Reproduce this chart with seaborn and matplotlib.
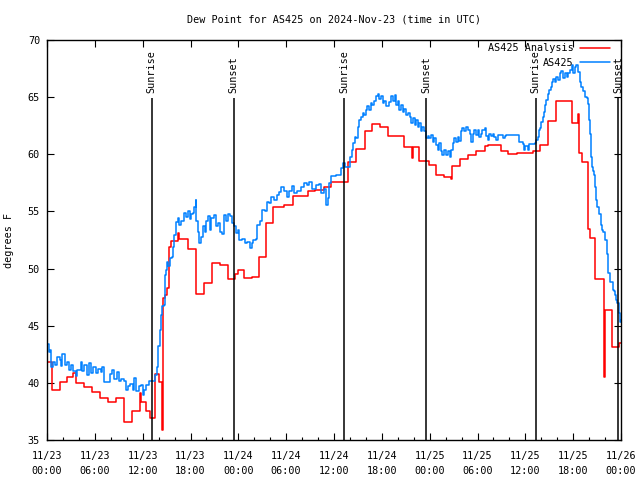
import matplotlib
matplotlib.use("Agg")
import matplotlib.pyplot as plt
import matplotlib.dates as mdates
import seaborn as sns
import pandas as pd

# hours after 2024-11-23 00:00 UTC
start = pd.Timestamp("2024-11-23 00:00")

# analysis series (step change points)
analysis_hours = [0.0, 0.67, 1.6, 2.55, 3.2, 3.7, 4.65, 5.7, 6.67, 7.67, 8.7, 9.6, 10.6,
                  11.7, 11.8, 12.4, 12.95, 13.6, 14.1, 14.4, 14.6, 14.8, 15.1, 15.3, 15.6,
                  16.4, 16.6, 17.65, 18.65, 19.75, 20.7, 21.7, 22.7, 23.6, 23.9, 24.7, 25.75,
                  26.6, 27.5, 28.3, 29.7, 30.8, 32.75, 33.6, 34.8, 35.6, 37.8, 38.8, 39.9,
                  40.75, 41.75, 42.8, 44.8, 45.75, 45.85, 46.7, 47.95, 48.8, 49.85, 50.7,
                  50.8, 51.8, 52.8, 53.8, 54.9, 55.3, 56.9, 57.8, 59.0, 60.95, 61.9, 62.85,
                  63.9, 64.9, 65.9, 66.6, 66.75, 67.1, 67.9, 68.1, 68.8, 69.85, 69.95, 70.9,
                  71.75, 72.0]
analysis_vals = [41.8, 39.4, 40.1, 40.5, 40.9, 40.0, 39.6, 39.2, 38.65, 38.35, 38.65, 36.55, 37.5,
                 39.1, 38.3, 37.5, 36.9, 40.75, 40.1, 35.9, 47.4, 47.7, 48.3, 51.9, 52.4,
                 53.1, 52.6, 51.7, 47.8, 48.7, 50.5, 50.3, 49.05, 49.5, 49.9, 49.2, 49.3,
                 51.0, 54.0, 55.4, 55.6, 56.35, 56.8, 56.9, 57.1, 57.6, 59.35, 60.5, 62.0,
                 62.65, 62.4, 61.6, 60.65, 59.7, 60.6, 59.4, 59.05, 58.2, 58.05, 57.8,
                 58.95, 59.6, 59.95, 60.25, 60.7, 60.8, 60.3, 60.0, 60.1, 60.25, 60.8, 62.9,
                 64.65, 64.7, 62.7, 63.5, 60.1, 59.3, 53.45, 52.65, 49.1, 40.55, 46.4, 43.1,
                 43.5, 43.5]

# station observations
obs_hours = [0.0, 0.2, 0.33, 0.55, 0.8, 1.0, 1.3, 1.6, 1.8, 1.93, 2.2, 2.47, 2.77, 3.06, 3.31,
             3.6, 3.8, 4.23, 4.44, 4.65, 4.99, 5.28, 5.49, 5.83, 6.12, 6.41, 6.75, 6.96, 7.17,
             7.59, 7.88, 8.13, 8.43, 8.76, 8.97, 9.27, 9.6, 9.89, 10.1, 10.44, 10.73, 10.94,
             11.15, 11.49, 11.78, 11.99, 12.2, 12.41, 12.83, 13.46, 13.58, 13.75, 13.96, 14.13,
             14.3, 14.42, 14.63, 14.76, 14.93, 15.05, 15.22, 15.39, 15.64, 15.77, 15.98, 16.2,
             16.4, 16.6, 16.8, 17.15, 17.4, 17.65, 17.9, 18.1, 18.3, 18.5, 18.65, 18.75, 18.9,
             19.05, 19.3, 19.55, 19.8, 20.0, 20.2, 20.4, 20.6, 20.9, 21.2, 21.5, 21.7, 22.0,
             22.2, 22.4, 22.7, 22.9, 23.2, 23.4, 23.7, 23.9, 24.1, 24.5, 24.85, 25.1, 25.45,
             25.7, 25.9, 26.2, 26.4, 26.7, 27.0, 27.3, 27.55, 27.85, 28.1, 28.5, 28.8, 29.1,
             29.4, 29.7, 30.1, 30.4, 30.7, 31.0, 31.4, 31.8, 32.25, 32.6, 32.9, 33.2, 33.5,
             33.8, 34.1, 34.4, 34.75, 34.95, 35.2, 35.4, 35.6, 36.2, 36.9, 37.1, 37.4, 37.8,
             37.98, 38.2, 38.4, 38.6, 38.8, 38.95, 39.1, 39.4, 39.6, 39.8, 40.0, 40.2, 40.4,
             40.6, 40.8, 41.05, 41.3, 41.5, 41.7, 41.9, 42.1, 42.3, 42.5, 42.85, 43.1, 43.4,
             43.6, 43.8, 44.0, 44.2, 44.4, 44.6, 44.8, 45.0, 45.25, 45.5, 45.7, 45.9, 46.1,
             46.3, 46.5, 46.7, 46.9, 47.1, 47.3, 47.5, 47.75, 47.97, 48.2, 48.4, 48.6, 48.8,
             49.0, 49.2, 49.4, 49.6, 49.8, 50.0, 50.25, 50.5, 50.7, 50.9, 51.1, 51.3, 51.5,
             51.7, 51.95, 52.1, 52.35, 52.6, 52.8, 53.0, 53.2, 53.4, 53.6, 53.8, 54.0, 54.2,
             54.4, 54.6, 54.9, 55.1, 55.3, 55.5, 55.7, 55.9, 56.1, 56.3, 56.6, 57.2, 57.4,
             57.6, 58.9, 59.2, 59.7, 59.8, 60.0, 60.3, 60.5, 60.8, 61.2, 61.4, 61.6, 61.7,
             61.8, 62.0, 62.2, 62.4, 62.5, 62.6, 62.85, 63.0, 63.2, 63.4, 63.5, 63.7, 63.9,
             64.1, 64.3, 64.5, 64.7, 64.95, 65.2, 65.4, 65.6, 65.8, 66.0, 66.2, 66.4, 66.6,
             66.8, 67.0, 67.2, 67.5, 67.7, 67.9, 68.0, 68.1, 68.2, 68.3, 68.5, 68.6, 68.8,
             68.9, 69.0, 69.2, 69.3, 69.5, 69.6, 69.8, 70.0, 70.2, 70.4, 70.6, 70.95, 71.1,
             71.3, 71.4, 71.5, 71.7, 71.9, 72.0]
obs_vals = [43.4, 42.7, 42.9, 41.4, 41.8, 41.6, 42.3, 42.0, 41.5, 42.5, 41.6, 41.8, 41.1, 41.6, 41.05,
            40.6, 41.1, 41.8, 41.0, 41.6, 40.7, 41.7, 40.9, 41.4, 40.9, 41.2, 40.95, 41.4, 40.1,
            40.1, 40.8, 41.1, 40.3, 40.95, 40.2, 40.3, 40.2, 39.4, 39.7, 39.9, 39.4, 40.4,
            39.3, 39.7, 39.85, 38.95, 39.4, 39.85, 40.15, 40.15, 40.7, 41.4, 43.2, 44.6,
            45.9, 46.7, 46.85, 49.4, 49.9, 50.6, 50.2, 50.9, 51.0, 51.9, 52.9, 54.1,
            54.4, 53.8, 54.2, 54.9, 54.5, 55.0, 54.3, 54.8, 54.9, 55.4, 56.0, 54.2, 53.2,
            52.2, 52.8, 53.7, 53.2, 54.2, 54.6, 53.4, 54.4, 54.7, 53.7, 54.0, 53.2, 53.0,
            54.7, 54.2, 54.8, 54.6, 54.0, 53.7, 53.1, 53.4, 52.5, 52.6, 52.2, 52.35, 51.8,
            52.2, 52.5, 52.6, 53.8, 54.2, 55.1, 55.0, 55.85, 55.7, 56.3, 56.0, 56.45, 56.7,
            57.15, 56.8, 56.3, 56.8, 57.2, 56.6, 56.75, 57.15, 57.45, 57.3, 57.6, 57.0, 57.0,
            57.3, 57.4, 56.6, 57.0, 55.6, 56.2, 57.45, 58.1, 58.2, 58.8, 59.2, 58.9, 58.9,
            59.8, 60.4, 61.0, 61.5, 61.4, 62.4, 63.0, 63.3, 63.6, 63.4, 63.9, 64.2, 63.9,
            64.5, 64.3, 64.7, 65.1, 65.3, 64.8, 65.1, 64.5, 64.7, 64.2, 64.6, 65.1, 64.7,
            65.2, 64.3, 64.7, 63.9, 64.3, 63.7, 64.0, 63.4, 63.6, 63.3, 62.7, 63.2, 62.6,
            63.0, 62.4, 62.7, 62.0, 62.4, 62.0, 61.4, 61.6, 61.4, 61.7, 61.1, 61.4, 60.8,
            60.4, 61.0, 60.3, 59.9, 60.4, 59.9, 60.3, 59.8, 60.4, 61.0, 61.4, 61.1, 61.5,
            61.2, 62.0, 62.3, 62.0, 62.4, 62.1, 61.8, 61.1, 61.8, 62.1, 61.7, 62.1, 61.5,
            61.8, 62.1, 62.3, 61.6, 61.25, 61.8, 61.6, 61.8, 61.5, 61.25, 61.7, 61.4, 61.6,
            61.7, 61.7, 61.1, 60.9, 60.4, 60.7, 60.4, 60.9, 60.9, 61.0, 61.25, 61.5, 62.1,
            62.3, 62.85, 63.3, 63.7, 64.3, 64.75, 65.3, 65.6, 65.9, 66.35, 66.6, 66.3, 66.8,
            66.5, 67.1, 67.3, 66.65, 67.1, 66.8, 67.1, 67.4, 67.8, 67.1, 67.65, 67.8, 67.2,
            66.35, 65.9, 65.5, 65.0, 64.9, 64.4, 63.0, 61.8, 59.8, 58.9, 58.5, 58.2, 57.15,
            56.0, 55.4, 55.1, 54.8, 53.8, 53.4, 53.2, 52.5, 51.3, 49.6, 48.85, 48.1, 48.0,
            47.7, 47.25, 46.95, 46.1, 45.35, 45.5]

sunrise_hours = [13.12, 37.27, 61.3]
sunset_hours = [23.43, 47.55, 71.66]


def to_time(hours):
    return start + pd.to_timedelta(hours, unit="h")


analysis_df = pd.DataFrame({"time": to_time(analysis_hours), "dewpoint": analysis_vals})
obs_df = pd.DataFrame({"time": to_time(obs_hours), "dewpoint": obs_vals})

sns.set_style("ticks")
plt.rcParams["font.family"] = ["DejaVu Sans Mono"]
fs = 7.3
plt.rcParams["font.size"] = fs
for key in ["text.color", "axes.labelcolor", "xtick.color", "ytick.color"]:
    plt.rcParams[key] = "black"

fig = plt.figure(figsize=(6.4, 4.8), dpi=100)
ax = fig.add_axes([47 / 640, 40 / 480, 574 / 640, 400 / 480])

sns.lineplot(data=analysis_df, x="time", y="dewpoint", ax=ax, color="#ff0000",
             linewidth=1.1, drawstyle="steps-post", estimator=None, sort=False,
             label="AS425 Analysis")
sns.lineplot(data=obs_df, x="time", y="dewpoint", ax=ax, color="#0080ff",
             linewidth=1.1, drawstyle="steps-post", estimator=None, sort=False,
             label="AS425")

# sunrise / sunset markers
for hrs, name in [(sunrise_hours, "Sunrise"), (sunset_hours, "Sunset")]:
    for h in hrs:
        t = to_time(h)
        ax.vlines(t, 35, 64.9, color="black", linewidth=1.1)
        ax.text(t, 65.35, name, rotation=90, ha="center", va="bottom", fontsize=fs)

ax.set_xlim(start, to_time(72))
ax.set_ylim(35, 70)
ax.set_yticks(range(35, 71, 5))
ax.xaxis.set_major_locator(mdates.HourLocator(byhour=[0, 6, 12, 18]))
ax.xaxis.set_minor_locator(mdates.HourLocator(byhour=range(0, 24, 2)))
ax.xaxis.set_major_formatter(mdates.DateFormatter("%m/%d\n%H:%M"))
ax.tick_params(axis="both", which="major", direction="in", length=5, width=0.8,
               top=True, right=True, labelsize=fs, pad=5)
ax.tick_params(axis="x", which="major", pad=8)
ax.tick_params(axis="x", which="minor", direction="in", length=2.5, width=0.8, top=False)

for s in ax.spines.values():
    s.set_color("black")
    s.set_linewidth(1.0)

ax.set_xlabel("")
ax.set_ylabel("degrees F", fontsize=fs, labelpad=10)
ax.set_title("Dew Point for AS425 on 2024-Nov-23 (time in UTC)", fontsize=fs, pad=12.5)

ax.legend(loc="upper right", bbox_to_anchor=(0.99, 1.005), frameon=False, markerfirst=False,
          handlelength=3.0, handletextpad=0.6, labelspacing=0.45, fontsize=fs,
          borderaxespad=0.1)

fig.canvas.draw()
for lbl in ax.get_xticklabels():
    lbl.set_linespacing(1.6)

fig.savefig("out.png", dpi=100)
